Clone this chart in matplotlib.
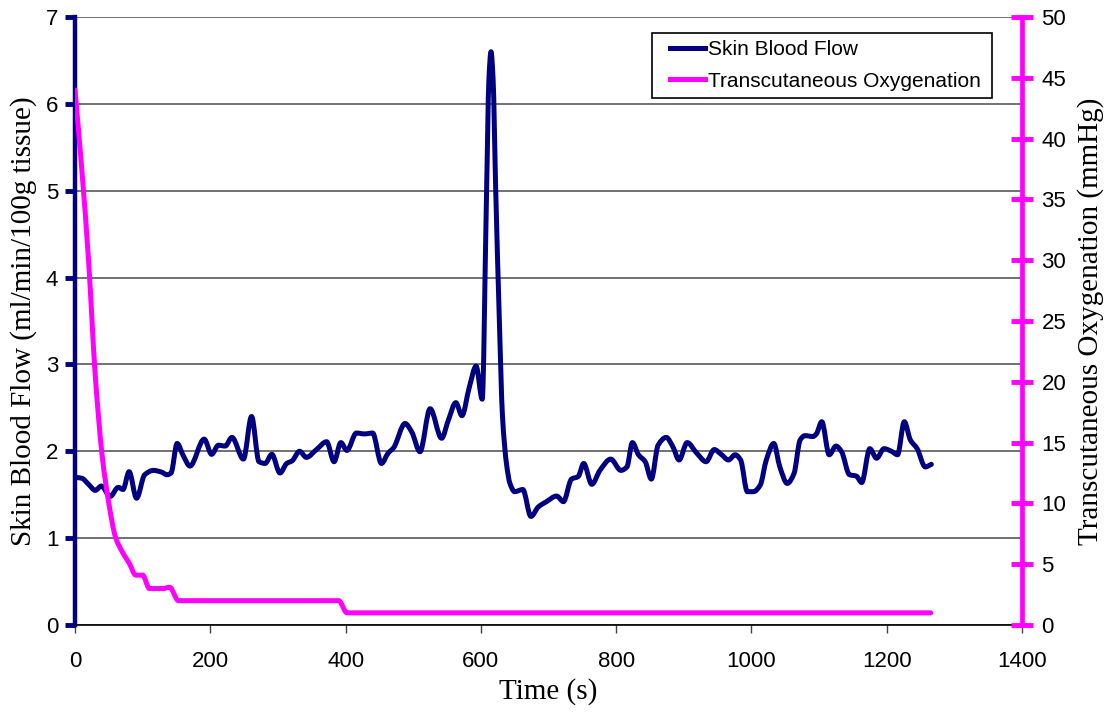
import matplotlib
matplotlib.use("Agg")
import matplotlib.pyplot as plt
from matplotlib.path import Path
from matplotlib.patches import PathPatch, Rectangle
from matplotlib.lines import Line2D

# Skin blood flow (left axis)
flow_t = [0, 10, 20, 30, 39, 52, 64, 71, 80, 91, 103, 116, 128, 136, 142, 151, 160, 170,
          191, 202, 212, 222, 232, 249, 261, 272, 281, 291, 303, 313, 321, 332, 342, 357,
          372, 383, 393, 402, 416, 428, 440, 453, 463, 471, 488, 498, 510, 525, 542, 552,
          563, 572, 583, 593, 602, 608, 612, 615, 618, 622, 627, 632, 638, 643, 650, 662,
          674, 685, 697, 712, 722, 734, 744, 752, 764, 776, 792, 807, 816, 824, 833, 843,
          852, 862, 874, 884, 893, 905, 919, 933, 945, 956, 966, 976, 984, 994, 1003, 1013,
          1022, 1033, 1042, 1053, 1063, 1072, 1079, 1091, 1096, 1104, 1115, 1125, 1133,
          1145, 1155, 1163, 1175, 1185, 1196, 1207, 1216, 1226, 1235, 1245, 1257, 1266]
flow = [1.70, 1.69, 1.62, 1.55, 1.60, 1.48, 1.585, 1.56, 1.765, 1.46, 1.73, 1.78, 1.76,
        1.73, 1.75, 2.09, 1.95, 1.83, 2.14, 1.965, 2.07, 2.06, 2.16, 1.91, 2.40, 1.88,
        1.86, 1.965, 1.75, 1.86, 1.89, 2.0, 1.93, 2.02, 2.11, 1.88, 2.10, 2.01, 2.21,
        2.20, 2.21, 1.86, 1.98, 2.04, 2.32, 2.22, 1.995, 2.49, 2.15, 2.36, 2.56, 2.41,
        2.74, 2.98, 2.60, 4.8, 6.3, 6.6, 6.3, 5.0, 3.6, 2.4, 1.85, 1.63, 1.535, 1.56,
        1.25, 1.36, 1.42, 1.485, 1.42, 1.68, 1.71, 1.86, 1.62, 1.78, 1.91, 1.78, 1.82,
        2.10, 1.96, 1.88, 1.68, 2.07, 2.16, 2.05, 1.90, 2.10, 1.98, 1.88, 2.02, 1.96,
        1.90, 1.96, 1.90, 1.535, 1.535, 1.61, 1.90, 2.09, 1.82, 1.63, 1.745, 2.13, 2.18,
        2.17, 2.2, 2.34, 1.96, 2.06, 2.0, 1.73, 1.715, 1.64, 2.03, 1.92, 2.03, 2.0, 1.96,
        2.34, 2.13, 2.03, 1.82, 1.85]

# Transcutaneous oxygenation (right axis)
oxy_t = [0, 10, 20, 30, 40, 50, 60, 70, 80, 90, 100, 110, 120, 130, 140, 153, 160, 390, 402, 1265]
oxy = [44, 37.5, 30, 20.5, 14, 10, 7.2, 6.0, 5.1, 4.1, 4.1, 3.0, 3.0, 3.0, 3.1, 2.0, 2.0, 2.0, 1.0, 1.0]

navy = "#000080"
magenta = "#FF00FF"
tick_font = "Liberation Sans"
label_font = "Liberation Serif"
LW = 3.6


def smooth_path(xs, ys):
    # smoothed line through the points (monotone cubic, drawn as Beziers)
    n = len(xs)
    h = [xs[i + 1] - xs[i] for i in range(n - 1)]
    d = [(ys[i + 1] - ys[i]) / h[i] for i in range(n - 1)]
    m = [d[0]] + [0.0] * (n - 2) + [d[-1]]
    for i in range(1, n - 1):
        if d[i - 1] * d[i] > 0:
            w1 = 2 * h[i] + h[i - 1]
            w2 = h[i] + 2 * h[i - 1]
            m[i] = (w1 + w2) / (w1 / d[i - 1] + w2 / d[i])
    verts = [(xs[0], ys[0])]
    codes = [Path.MOVETO]
    for i in range(n - 1):
        c1 = (xs[i] + h[i] / 3, ys[i] + m[i] * h[i] / 3)
        c2 = (xs[i + 1] - h[i] / 3, ys[i + 1] - m[i + 1] * h[i] / 3)
        verts += [c1, c2, (xs[i + 1], ys[i + 1])]
        codes += [Path.CURVE4] * 3
    return Path(verts, codes)


fig = plt.figure(figsize=(11.18, 7.12), dpi=100)
ax = fig.add_axes([75 / 1118, 1 - 625 / 712, 947 / 1118, 608 / 712])
ax2 = ax.twinx()

ax.add_patch(PathPatch(smooth_path(flow_t, flow), fill=False, edgecolor=navy, lw=LW,
                       joinstyle="round", capstyle="round", zorder=3))
ax2.add_patch(PathPatch(smooth_path(oxy_t, oxy), fill=False, edgecolor=magenta, lw=LW,
                        joinstyle="round", capstyle="round", zorder=3))

ax.set_xlim(0, 1400)
ax.set_ylim(0, 7)
ax2.set_ylim(0, 50)
ax.set_xticks(range(0, 1401, 200))
ax.set_yticks(range(0, 8))
ax2.set_yticks(range(0, 51, 5))

ax.yaxis.grid(True, color="#595959", lw=1.2)
ax.set_axisbelow(True)

for s in ["top", "right"]:
    ax.spines[s].set_visible(False)
ax.spines["left"].set_color(navy)
ax.spines["left"].set_linewidth(3.2)
ax.spines["bottom"].set_color("black")
ax.spines["bottom"].set_linewidth(1.2)
for s in ["top", "left", "bottom"]:
    ax2.spines[s].set_visible(False)
ax2.spines["right"].set_color(magenta)
ax2.spines["right"].set_linewidth(3.4)

ax.tick_params(axis="y", direction="out", length=7, width=3.5, color=navy, pad=5)
ax.tick_params(axis="x", direction="out", length=6, width=1, color="#444444", pad=13)
ax2.tick_params(axis="y", direction="inout", length=16, width=3.5, color=magenta, pad=6)

for lab in ax.get_xticklabels() + ax.get_yticklabels() + ax2.get_yticklabels():
    lab.set_fontfamily(tick_font)
    lab.set_fontsize(16)

ax.set_xlabel("Time (s)", fontfamily=label_font, fontsize=21, labelpad=4)
ax.set_ylabel("Skin Blood Flow (ml/min/100g tissue)", fontfamily=label_font, fontsize=21, labelpad=6)
ax2.set_ylabel("Transcutaneous Oxygenation (mmHg)", fontfamily=label_font, fontsize=21, labelpad=8)

# legend frame drawn separately so horizontal padding can be wider than vertical
ax2.add_patch(Rectangle((0.609, 0.867), 0.359, 0.107, transform=ax.transAxes, fill=True,
                        facecolor="white", edgecolor="black", lw=1.2, zorder=5, clip_on=False))
handles = [Line2D([], [], color=navy, lw=LW), Line2D([], [], color=magenta, lw=LW)]
leg = ax2.legend(handles=handles, labels=["Skin Blood Flow", "Transcutaneous Oxygenation"],
                 loc="upper left", bbox_to_anchor=(0.628, 0.962), borderaxespad=0,
                 frameon=False, prop={"family": tick_font, "size": 15}, handlelength=1.7,
                 handletextpad=0.12, labelspacing=0.6, borderpad=0)
leg.set_zorder(6)

fig.savefig("out.png", dpi=100)
